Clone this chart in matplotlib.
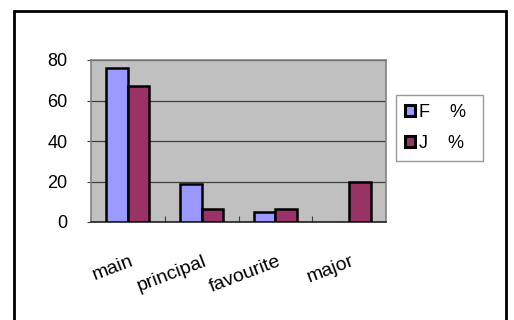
import matplotlib.pyplot as plt
import numpy as np
from matplotlib.patches import Rectangle

plt.rcParams['font.family'] = ['Liberation Sans', 'DejaVu Sans']

# survey words and the share (%) for each group
categories = ['main', 'principal', 'favourite', 'major']
f_pct = [76, 19, 5, 0]
j_pct = [67, 6.5, 6.5, 20]
series_names = ['F    %', 'J    %']

fig = plt.figure(figsize=(5.14, 3.2), dpi=100)
fig.patch.set_facecolor('white')

# outer chart frame
fig.patches.append(Rectangle((14 / 514, -0.2), 492 / 514, 1.2 - 11 / 320,
                             transform=fig.transFigure, fill=False,
                             edgecolor='black', linewidth=2))

ax = fig.add_axes([91 / 514, 1 - 222 / 320, 295 / 514, 162 / 320])
ax.set_facecolor('#C0C0C0')

x = np.arange(len(categories))
w = 0.29
bars_f = ax.bar(x - w / 2, f_pct, w, color='#9999FF', edgecolor='black',
                linewidth=1.8, label=series_names[0], zorder=3)
bars_j = ax.bar(x + w / 2, j_pct, w, color='#993366', edgecolor='black',
                linewidth=1.8, label=series_names[1], zorder=3)
# empty bars leave no outline
for b in list(bars_f) + list(bars_j):
    if b.get_height() == 0:
        b.set_visible(False)

ax.set_xlim(-0.5, len(categories) - 0.5)
ax.set_ylim(0, 80)
ax.set_yticks([0, 20, 40, 60, 80])
ax.yaxis.grid(True, color='#404040', linewidth=0.9, zorder=1)
ax.tick_params(axis='y', labelsize=13, length=3, color='#404040', pad=14)

# category boundaries as small inward ticks, labels rotated under each group
ax.set_xticks(np.arange(len(categories) - 1) + 0.5)
ax.set_xticklabels([])
ax.tick_params(axis='x', direction='in', length=4, color='#404040')
for xi, name in zip(x, categories):
    ax.annotate(name, xy=(xi, 0), xycoords=('data', 'axes fraction'),
                xytext=(1, -22), textcoords='offset points',
                rotation=21, rotation_mode='anchor', ha='right', va='top',
                fontsize=14)

for side in ['left', 'top', 'right']:
    ax.spines[side].set_color('#808080')
    ax.spines[side].set_linewidth(1.2)
ax.spines['bottom'].set_color('#202020')
ax.spines['bottom'].set_linewidth(1.2)

leg = ax.legend(loc='upper left', bbox_to_anchor=(396 / 514, 1 - 154 / 320, 87 / 514, 59 / 320),
                bbox_transform=fig.transFigure, mode='expand',
                fontsize=13, frameon=True, fancybox=False, handlelength=0.55,
                handleheight=0.55, handletextpad=0.2, labelspacing=0.75,
                borderpad=0.5, borderaxespad=0)
leg.get_frame().set_edgecolor('#808080')
leg.get_frame().set_linewidth(1)
for h in leg.legend_handles:
    h.set_linewidth(2.2)

fig.savefig('out.png', dpi=100)
